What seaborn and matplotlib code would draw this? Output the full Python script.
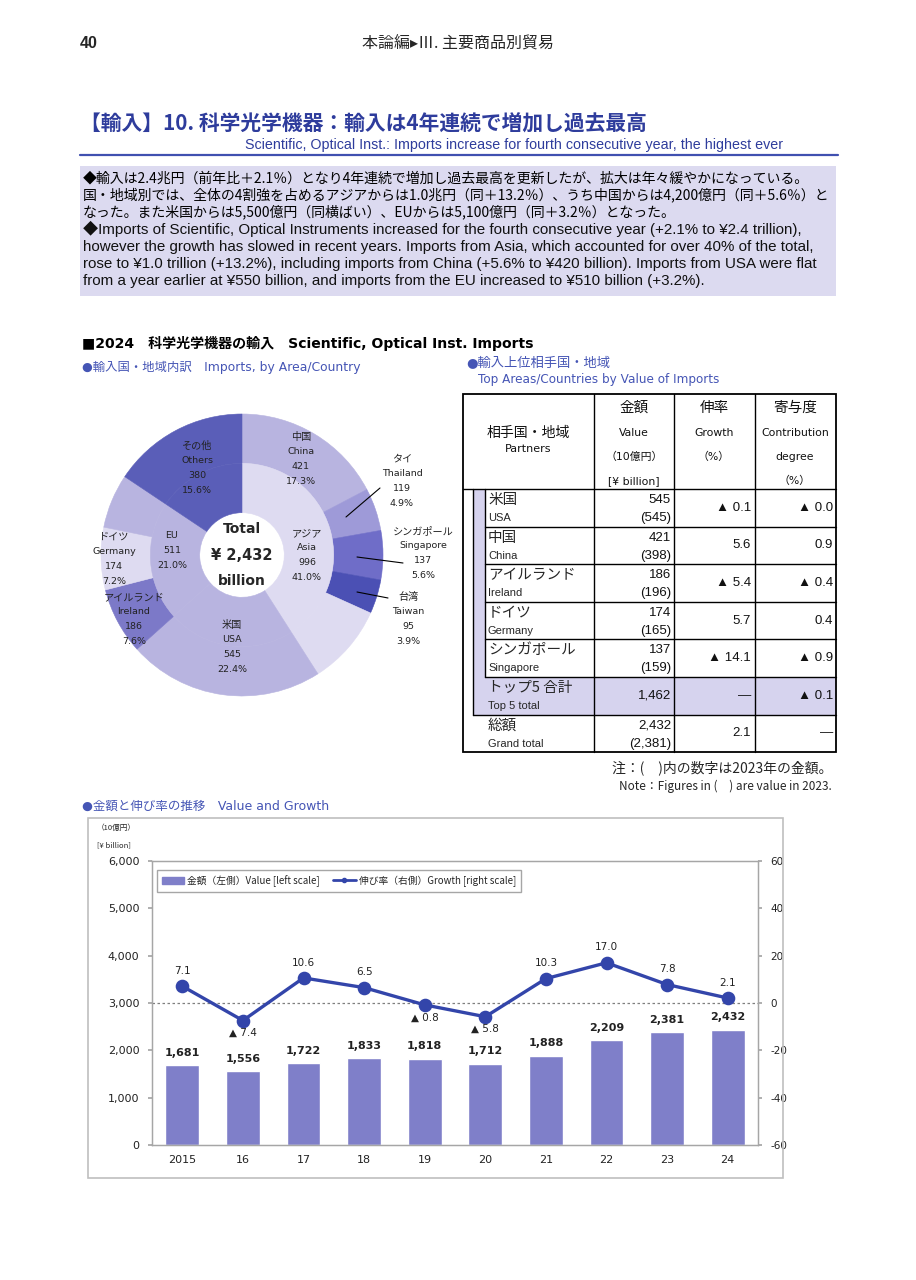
import numpy as np
import matplotlib
matplotlib.use('Agg')
import matplotlib.pyplot as plt
import seaborn as sns
from matplotlib import font_manager
from matplotlib.lines import Line2D
from matplotlib.patches import Patch, Rectangle

# ---------------- data ----------------
# donut, inner ring (areas)
region_jp = ['アジア', '米国', 'EU', 'その他']
region_en = ['Asia', 'USA', 'EU', 'Others']
region_val = [996, 545, 511, 380]
region_pct = [41.0, 22.4, 21.0, 15.6]

# donut, outer ring (countries, '' = rest of the area)
country_jp = ['中国', 'タイ', 'シンガポール', '台湾', '', '米国', 'アイルランド', 'ドイツ', '', 'その他']
country_en = ['China', 'Thailand', 'Singapore', 'Taiwan', '', 'USA', 'Ireland', 'Germany', '', 'Others']
country_val = [421, 119, 137, 95, 224, 545, 186, 174, 151, 380]
country_pct = [17.3, 4.9, 5.6, 3.9, None, 22.4, 7.6, 7.2, None, 15.6]
total_2024 = 2432

# table: top partners
top_jp = ['米国', '中国', 'アイルランド', 'ドイツ', 'シンガポール']
top_en = ['USA', 'China', 'Ireland', 'Germany', 'Singapore']
top_val = [545, 421, 186, 174, 137]
top_prev = [545, 398, 196, 165, 159]
top_growth = [-0.1, 5.6, -5.4, 5.7, -14.1]
top_contrib = [-0.0, 0.9, -0.4, 0.4, -0.9]
top5_total = 1462
top5_contrib = -0.1
grand_total = 2432
grand_prev = 2381
grand_growth = 2.1

# value and growth
years = ['2015', '16', '17', '18', '19', '20', '21', '22', '23', '24']
value = [1681, 1556, 1722, 1833, 1818, 1712, 1888, 2209, 2381, 2432]
growth = [7.1, -7.4, 10.6, 6.5, -0.8, -5.8, 10.3, 17.0, 7.8, 2.1]

# ---------------- style ----------------
sns.set_theme(style='white')
names = {f.name for f in font_manager.fontManager.ttflist}
JP = 'Noto Sans CJK JP'
NARROW = 'Liberation Sans Narrow' if 'Liberation Sans Narrow' in names else 'Liberation Sans'
ARIAL = 'Liberation Sans'
plt.rcParams['font.family'] = ['DejaVu Sans', JP]
plt.rcParams['axes.unicode_minus'] = False

TITLE_BLUE = '#2E3C9C'
SUB_BLUE = '#4555B5'
LAV = '#DCDAF0'
BAR = '#7F7FC9'
LINE = '#3345AA'

W, H = 916, 1280
fig = plt.figure(figsize=(W / 100, H / 100), dpi=100)
page = fig.add_axes([0, 0, 1, 1])
page.set_xlim(0, W)
page.set_ylim(H, 0)
page.axis('off')
page.set_zorder(10)
renderer = fig.canvas.get_renderer()


def px_axes(x0, y0, x1, y1):
    return fig.add_axes([x0 / W, 1 - y1 / H, (x1 - x0) / W, (y1 - y0) / H])


def fit_group(items, width, size, **kw):
    # draw lines and scale them together so the widest one spans `width`
    arts = [page.text(x, y, s, fontsize=size, va='center', **kw) for x, y, s in items]
    widest = max(a.get_window_extent(renderer).width for a in arts)
    for a in arts:
        a.set_fontsize(size * width / widest)
    return arts


def tri(v):
    if v < 0 or (v == 0 and np.signbit(v)):
        return f'▲ {abs(v):.1f}'
    return f'{v:.1f}'


# ---------------- page header ----------------
page.text(80, 44, '40', fontsize=11.5, fontweight='bold', family=[ARIAL, JP], va='center')
page.text(458, 44, '本論編▸Ⅲ. 主要商品別貿易', fontsize=11.5, ha='center', va='center', family=[JP, 'DejaVu Sans'])

fit_group([(80, 124, '【輸入】10. 科学光学機器：輸入は4年連続で増加し過去最高')], 568, 15,
          fontweight='bold', color=TITLE_BLUE, family=[JP])
fit_group([(783, 145, 'Scientific, Optical Inst.: Imports increase for fourth consecutive year, the highest ever')],
          531, 11, color=TITLE_BLUE, family=[NARROW, JP], ha='right')
page.plot([80, 838], [155, 155], color='#4050B0', lw=1.6)

# summary box
page.add_patch(Rectangle((80, 166), 756, 130, color=LAV, lw=0))
jp_lines = ['◆輸入は2.4兆円（前年比＋2.1％）となり4年連続で増加し過去最高を更新したが、拡大は年々緩やかになっている。',
            '国・地域別では、全体の4割強を占めるアジアからは1.0兆円（同＋13.2％）、うち中国からは4,200億円（同＋5.6％）と',
            'なった。また米国からは5,500億円（同横ばい）、EUからは5,100億円（同＋3.2％）となった。']
en_lines = ['◆Imports of Scientific, Optical Instruments increased for the fourth consecutive year (+2.1% to ¥2.4 trillion),',
            'however the growth has slowed in recent years. Imports from Asia, which accounted for over 40% of the total,',
            'rose to ¥1.0 trillion (+13.2%), including imports from China (+5.6% to ¥420 billion). Imports from USA were flat',
            'from a year earlier at ¥550 billion, and imports from the EU increased to ¥510 billion (+3.2%).']
fit_group([(83, y, s) for y, s in zip([178, 195, 212], jp_lines)], 749, 10, family=[JP], color='black')
fit_group([(83, y, s) for y, s in zip([229, 247, 264, 281], en_lines)], 738, 10, family=[NARROW, JP], color='#111111')

# section headers
fit_group([(82, 343, '■2024\u3000科学光学機器の輸入\u3000Scientific, Optical Inst. Imports')], 452, 11,
          fontweight='bold', color='black')
fit_group([(82, 367, '●輸入国・地域内訳\u3000Imports, by Area/Country')], 278, 8, color=SUB_BLUE)
fit_group([(466, 364, '●輸入上位相手国・地域')], 144, 9, color=SUB_BLUE)
fit_group([(478, 380, 'Top Areas/Countries by Value of Imports')], 240, 8, color=SUB_BLUE)
fit_group([(82, 806, '●金額と伸び率の推移\u3000Value and Growth')], 247, 8, color=SUB_BLUE)

# ---------------- donut ----------------
dax = px_axes(242 - 141, 555 - 141, 242 + 141, 555 + 141)
outer_colors = ['#B8B4E0', '#9E9AD8', '#6F6DC8', '#4B50B4', '#DEDBF1',
                '#B8B4E0', '#7C79C8', '#DEDBF1', '#B8B4E0', '#5A5EB8']
inner_colors = ['#DEDBF1', '#B8B4E0', '#B8B4E0', '#5A5EB8']
w_out, _ = dax.pie(country_val, radius=1, colors=outer_colors, startangle=90, counterclock=False,
                   wedgeprops=dict(width=0.35, linewidth=0.4))
w_in, _ = dax.pie(region_val, radius=0.65, colors=inner_colors, startangle=90, counterclock=False,
                  wedgeprops=dict(width=0.35, linewidth=0.4))
for w in list(w_out) + list(w_in):
    w.set_edgecolor(w.get_facecolor())
dax.set_xlim(-1, 1)
dax.set_ylim(-1, 1)
dax.set_aspect('equal')
dax.axis('off')


def donut_label(x, y0, lines, dy=14.8):
    for k, s in enumerate(lines):
        fs = 7.3 if any(ord(c) > 0x3000 for c in s) else 6.8
        page.text(x, y0 + k * dy, s, fontsize=fs, ha='center', va='center', color='#222222')


lab_pos = {0: (301, 437), 1: (402, 459), 2: (423, 531), 3: (408, 597), 6: (134, 597), 7: (114, 537)}
for i, pos in lab_pos.items():
    donut_label(pos[0], pos[1], [country_jp[i], country_en[i], f'{country_val[i]:,}', f'{country_pct[i]:.1f}%'])

reg_pos = [(307, 533), (232, 625), (172, 536), (197, 446)]
for i, (x, y) in enumerate(reg_pos):
    if region_en[i] == 'EU':
        donut_label(x, y, ['EU', f'{region_val[i]:,}', f'{region_pct[i]:.1f}%'])
    else:
        donut_label(x, y, [region_jp[i], region_en[i], f'{region_val[i]:,}', f'{region_pct[i]:.1f}%'])

for (x0, y0), (x1, y1) in [((346, 517), (380, 488)), ((357, 557), (403, 563)), ((357, 592), (388, 598))]:
    page.plot([x0, x1], [y0, y1], color='black', lw=0.8)

page.text(242, 529, 'Total', fontsize=10, fontweight='bold', ha='center', va='center')
page.text(242, 555, f'¥ {total_2024:,}', fontsize=10.5, fontweight='bold', ha='center', va='center')
page.text(242, 581, 'billion', fontsize=10, fontweight='bold', ha='center', va='center')

# ---------------- table ----------------
cx = [463, 594, 674, 755, 836]
head_top, head_bot = 394, 489
rh = 37.6
rows = [head_bot + i * rh for i in range(8)]
TLAV = '#D6D3EE'
page.add_patch(Rectangle((473, rows[0]), 12, rows[5] - rows[0], color=TLAV, lw=0))
page.add_patch(Rectangle((473, rows[5]), cx[-1] - 473, rh, color=TLAV, lw=0))
page.add_patch(Rectangle((cx[0], head_top), cx[-1] - cx[0], rows[7] - head_top, fill=False, ec='black', lw=1.3))
for x in cx[1:-1]:
    page.plot([x, x], [head_top, rows[7]], color='black', lw=1.0)
page.plot([cx[0], cx[-1]], [head_bot, head_bot], color='black', lw=1.0)
for y in rows[1:6]:
    page.plot([485, cx[-1]], [y, y], color='black', lw=1.0)
page.plot([473, cx[-1]], [rows[6], rows[6]], color='black', lw=1.0)
page.plot([473, 473], [rows[0], rows[6]], color='black', lw=1.0)
page.plot([485, 485], [rows[0], rows[5]], color='black', lw=1.0)

hdr = dict(ha='center', va='center', color='#111111')
page.text(528, 433, '相手国・地域', fontsize=10, family=[JP], **hdr)
page.text(528, 449, 'Partners', fontsize=8, **hdr)
for x, col in zip([634, 714, 795], [['金額', 'Value', '（10億円）', '[¥ billion]'],
                                     ['伸率', 'Growth', '（%）', ''],
                                     ['寄与度', 'Contribution', 'degree', '（%）']]):
    page.text(x, 408, col[0], fontsize=10.5, family=[JP], **hdr)
    for y, s in zip([433, 457, 481], col[1:]):
        page.text(x, y, s, fontsize=7.8, family=['DejaVu Sans', JP], **hdr)

num = dict(family=[ARIAL, JP], fontsize=9.5, va='center', color='#111111')
for i in range(5):
    rt = rows[i]
    page.text(488, rt + 11, top_jp[i], fontsize=10.5, family=[JP], va='center')
    page.text(488, rt + 29, top_en[i], fontsize=8, family=[ARIAL], va='center')
    page.text(671, rt + 11, f'{top_val[i]:,}', ha='right', **num)
    page.text(671, rt + 29, f'({top_prev[i]:,})', ha='right', **num)
    page.text(751, rt + rh / 2, tri(top_growth[i]), ha='right', **num)
    page.text(833, rt + rh / 2, tri(top_contrib[i]), ha='right', **num)

rt = rows[5]
page.text(488, rt + 11, 'トップ5 合計', fontsize=10.5, family=[JP], va='center')
page.text(488, rt + 29, 'Top 5 total', fontsize=8, family=[ARIAL], va='center')
page.text(671, rt + rh / 2, f'{top5_total:,}', ha='right', **num)
page.text(751, rt + rh / 2, '―', ha='right', **num)
page.text(833, rt + rh / 2, tri(top5_contrib), ha='right', **num)

rt = rows[6]
page.text(488, rt + 11, '総額', fontsize=10.5, family=[JP], va='center')
page.text(488, rt + 29, 'Grand total', fontsize=8, family=[ARIAL], va='center')
page.text(671, rt + 11, f'{grand_total:,}', ha='right', **num)
page.text(671, rt + 29, f'({grand_prev:,})', ha='right', **num)
page.text(751, rt + rh / 2, tri(grand_growth), ha='right', **num)
page.text(833, rt + rh / 2, '―', ha='right', **num)

fit_group([(832, 768, '注：(\u3000)内の数字は2023年の金額。')], 221, 9, family=[JP], ha='right')
fit_group([(832, 786, 'Note：Figures in (\u3000) are value in 2023.')], 213, 8.5, family=[JP], ha='right')

# ---------------- value & growth chart ----------------
page.add_patch(Rectangle((88, 818), 695, 360, fill=False, ec='#BFBFBF', lw=1.2))
page.text(97, 828, '（10億円）', fontsize=5.5, family=[JP], va='center')
page.text(97, 845, '[¥ billion]', fontsize=5.5, family=[JP], va='center')

cax = px_axes(152, 861, 758, 1145)
sns.barplot(x=years, y=value, color=BAR, width=0.56, saturation=1, errorbar=None, ax=cax)
cax.set_ylim(0, 6000)
cax.set_yticks(range(0, 6001, 1000))
cax.set_yticklabels([f'{v:,}' for v in range(0, 6001, 1000)])
for i, v in enumerate(value):
    cax.annotate(f'{v:,}', (i, v), xytext=(0, 9), textcoords='offset points', ha='center', va='center',
                 fontsize=8, fontweight='bold', color='#222222')

cax2 = cax.twinx()
cax2.axhline(0, color='#7F7F7F', lw=0.9, ls=(0, (2, 2)), zorder=0)
sns.pointplot(x=years, y=growth, color=LINE, markers='o', markersize=8, linewidth=2.4,
              errorbar=None, ax=cax2)
cax2.set_ylim(-60, 60)
cax2.set_yticks(range(-60, 61, 20))
cax.set_xlim(-0.5, len(years) - 0.5)
for i, g in enumerate(growth):
    off = 11 if g >= 0 else -9
    cax2.annotate(tri(g), (i, g), xytext=(0, off), textcoords='offset points', ha='center', va='center',
                  fontsize=7.5, color='#222222')

for a in (cax, cax2):
    a.set_xlabel('')
    a.set_ylabel('')
    for sp in a.spines.values():
        sp.set_color('#A6A6A6')
        sp.set_linewidth(0.9)
cax.tick_params(axis='y', left=True, length=3, color='#A6A6A6', labelsize=8, pad=6, labelcolor='#222222')
cax.tick_params(axis='x', length=0, labelsize=8, pad=7, labelcolor='#222222')
cax2.tick_params(axis='y', right=True, length=3, color='#A6A6A6', labelsize=7.5, pad=6, labelcolor='#222222')

handles = [Patch(color=BAR), Line2D([], [], color=LINE, lw=2, marker='o', markersize=3)]
labels = ['金額（左側）Value [left scale]', '伸び率（右側）Growth [right scale]']
cax2.legend(handles, labels, loc='upper left', bbox_to_anchor=(0.0, 0.985), ncol=2,
            frameon=True, fancybox=False, edgecolor='#A6A6A6', framealpha=1, handlelength=2.3,
            columnspacing=1.4, borderpad=0.5, handletextpad=0.3, prop={'family': [JP], 'size': 7})

fig.savefig('out.png', dpi=100)
